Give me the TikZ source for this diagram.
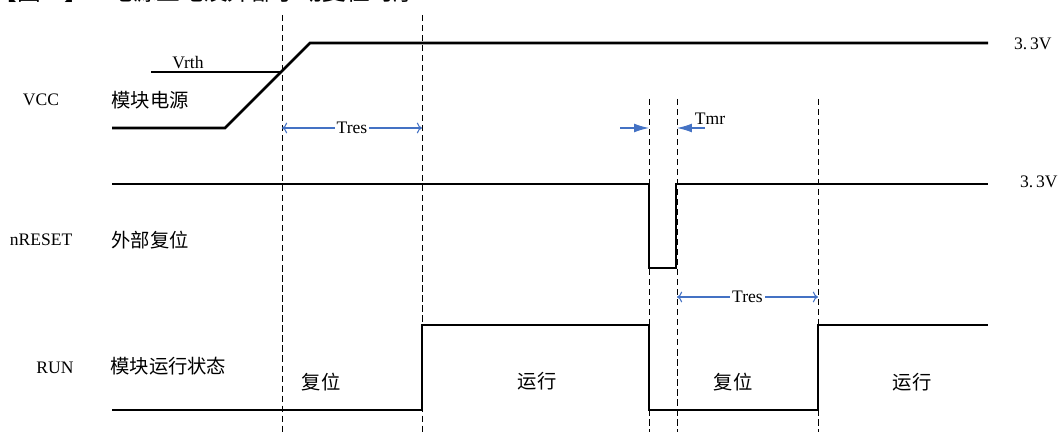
\documentclass[tikz,border=0pt]{standalone}
\usepackage{fontspec}
\setmainfont{Liberation Serif}
\newfontfamily\cjk{Noto Sans CJK SC}
\usepackage{tikz}
\usetikzlibrary{arrows.meta}
\definecolor{spanblue}{RGB}{68,114,196}

\begin{document}
\begin{tikzpicture}[x=0.02cm,y=-0.02cm]
		\tikzstyle{sig} = [line width=1.5pt, line join=miter]
		\tikzstyle{guide} = [line width=0.5pt, dash pattern=on 3.5pt off 2.2pt]
		\tikzstyle{span} = [draw=spanblue, line width=0.6pt, arrows={-Latex[length=8.5pt,width=5pt]}]
		\tikzstyle{lbl} = [font=\fontsize{10}{12}\selectfont, inner sep=1pt]
		\tikzstyle{cn} = [font=\cjk\fontsize{11}{13}\selectfont, inner sep=0pt]
		\useasboundingbox (0,0) rectangle (1059,432);

		\node [cn, anchor=west, font=\cjk\fontsize{13.5}{15}\selectfont] (title) at (-7,-9) {【图二】\hspace{12pt}电源上电及外部手动复位时序};

		% time marks
		\coordinate (a1) at (282,15);  \coordinate (a2) at (282,432);
		\coordinate (b1) at (422,15);  \coordinate (b2) at (422,432);
		\coordinate (c1) at (649,99);  \coordinate (c2) at (649,432);
		\coordinate (d1) at (677,99);  \coordinate (d2) at (677,432);
		\coordinate (e1) at (818,99);  \coordinate (e2) at (818,432);
		\draw[guide] (a1) -- (a2);
		\draw[guide] (b1) -- (b2);
		\draw[guide] (c1) -- (c2);
		\draw[guide] (d1) -- (d2);
		\draw[guide] (e1) -- (e2);

		% VCC
		\node [lbl] (vcc) at (41,100) {VCC};
		\node [cn, anchor=west] (vccname) at (111,100) {模块电源};
		\draw[sig] (112,128) -- (225,128) -- (310,43) -- (988,43);
		\coordinate (vrthL) at (151,72);
		\coordinate (vrthR) at (281,72);
		\draw[line width=0.6pt] (vrthL) -- (vrthR);
		\node [lbl] (vrth) at (188,63) {Vrth};
		\node [lbl, anchor=west] (vhi1) at (1012,44) {3.\,3V};

		\coordinate (tres1L) at (282,128);
		\coordinate (tres1R) at (422,128);
		\draw[span, <->] (tres1L) -- node[lbl, fill=white] (tres1) {Tres} (tres1R);

		% nRESET
		\node [lbl] (nrst) at (41,240) {nRESET};
		\node [cn, anchor=west] (nrstname) at (111,240) {外部复位};
		\draw[sig] (112,184) -- (649,184) -- (649,268) -- (676,268) -- (676,184) -- (988,184);
		\node [lbl, anchor=west] (vhi2) at (1018,182) {3.\,3V};

		\coordinate (tmrA) at (620,128);
		\coordinate (tmrB) at (705,128);
		\draw[span] (tmrA) -- (c1 |- tmrA);
		\draw[span] (tmrB) -- (d1 |- tmrB);
		\node [lbl] (tmr) at (710,119) {Tmr};

		% RUN
		\node [lbl] (run) at (55,368) {RUN};
		\node [cn, anchor=west] (runname) at (110,366) {模块运行状态};
		\draw[sig] (112,410) -- (422,410) -- (422,325) -- (649,325) -- (649,410) -- (818,410) -- (818,325) -- (988,325);
		\node [cn] (st1) at (321,382) {复位};
		\node [cn] (st2) at (537,381) {运行};
		\node [cn] (st3) at (733,382) {复位};
		\node [cn] (st4) at (912,382) {运行};

		\coordinate (tres2L) at (677,297);
		\coordinate (tres2R) at (818,297);
		\draw[span, <->] (tres2L) -- node[lbl, fill=white] (tres2) {Tres} (tres2R);
	\end{tikzpicture}
\end{document}
